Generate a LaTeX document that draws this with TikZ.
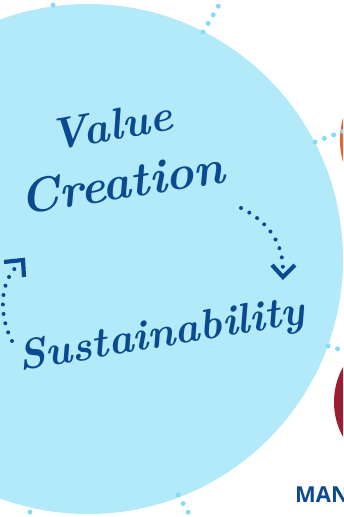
\documentclass[tikz,border=0pt]{standalone}
\usepackage{fontspec}
\newfontfamily\labelsans{Open Sans}
\definecolor{skyfill}{HTML}{B2EAF9}
\definecolor{skydot}{HTML}{86DBF5}
\definecolor{inkblue}{HTML}{0B4A8F}
\definecolor{hubOrange}{HTML}{E8622A}
\definecolor{hubRed}{HTML}{9B1D30}
\tikzset{
  script/.style={inkblue, inner sep=0pt, anchor=base west},
  linkdots/.style={skydot, line width=5pt, line cap=round, dash pattern=on 0pt off 10pt},
  flowdots/.style={inkblue, line width=4pt, line cap=round, dash pattern=on 0pt off 9.5pt},
  chevron/.style={inkblue, line width=4.2pt, miter limit=10},
}
\begin{document}
\begin{tikzpicture}[x=1pt,y=-1pt]
\useasboundingbox (0,0) rectangle (343,517);
\clip (0,0) rectangle (343,517);

% main circle and neighbouring hubs
\fill[skyfill] (88,259) circle[radius=255pt];
\fill[hubOrange] (420,140) circle[radius=80pt];
\fill[hubRed] (406,402) circle[radius=72pt];

% dotted links between the hubs
\draw[linkdots] (53,5) -- (51,-12);
\draw[linkdots] (203,32) -- (228,-10);
\draw[linkdots] (315,142) -- (352,128);
\draw[linkdots] (328,346) -- (358,355);
\draw[linkdots] (178,495) -- (200,532);
\draw[linkdots] (30,512) -- (28,530);

% handwritten labels
\node[script, rotate=10, font=\bfseries\itshape\fontsize{44}{44}\selectfont] (value) at (52,151) {Value};
\node[script, rotate=9, font=\bfseries\itshape\fontsize{48}{48}\selectfont] (creation) at (22,215) {Creation};
\node[script, rotate=9.5, font=\bfseries\itshape\fontsize{42.5}{42.5}\selectfont] (sustain) at (20,371) {Sustainability};

% cycle arrows
\coordinate (c1) at (241,208);
\coordinate (c2) at (283,270);
\coordinate (s1) at (12,341);
\coordinate (s2) at (17,266);
\draw[flowdots] (c1) .. controls (265,220) and (283,240) .. (c2);
\draw[chevron] (272,265) -- (283,277) -- (295,265);
\draw[flowdots] (s1) .. controls (0,318) and (-2,285) .. (s2);
\draw[chevron] (4,262) -- (23,260) -- (24,277);

% caption of the lower hub
\node[inkblue, anchor=base west, inner sep=0pt, font=\labelsans\bfseries\fontsize{22}{22}\selectfont] (man) at (295,502) {MAN};
\end{tikzpicture}
\end{document}
